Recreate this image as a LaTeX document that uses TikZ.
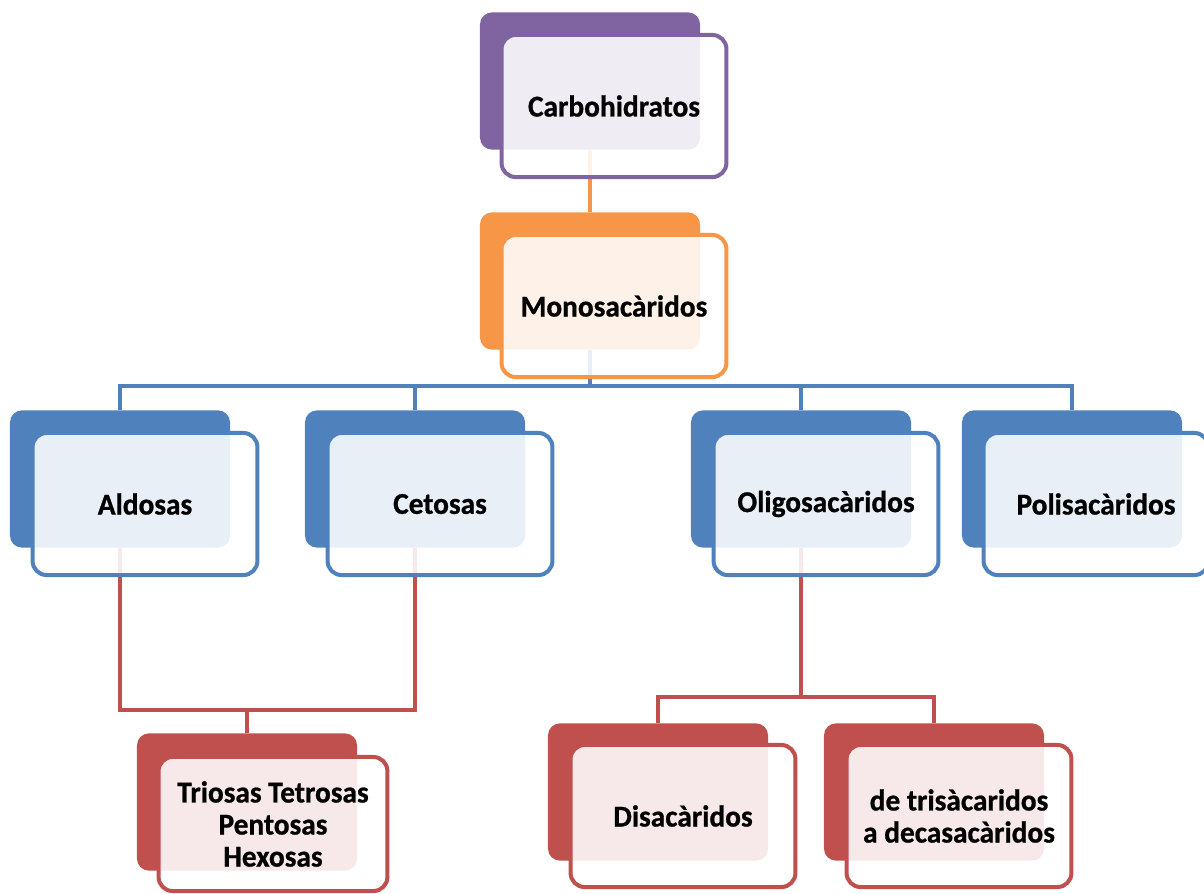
\documentclass[tikz,border=0pt]{standalone}
\usepackage{fontspec}
\newfontfamily\boxfont{Carlito}[FakeStretch=0.97,BoldFeatures={FakeBold=0.8}]
\usetikzlibrary{backgrounds}
\definecolor{cpurple}{HTML}{8064A2}
\definecolor{corange}{HTML}{F79646}
\definecolor{cblue}{HTML}{4F81BD}
\definecolor{cred}{HTML}{C0504D}
\begin{document}
\begin{tikzpicture}[x=0.025cm,y=-0.025cm,
  back/.style={rectangle,rounded corners=0.3cm,minimum width=5.5cm,minimum height=3.43cm,inner sep=0pt},
  front/.style={rectangle,rounded corners=0.35cm,minimum width=5.62cm,minimum height=3.55cm,draw,line width=2.85pt,fill=white,fill opacity=0.88,text opacity=1,text=black,align=center,font=\boxfont\bfseries\fontsize{21.5}{22.8}\selectfont},
  link/.style={line width=3.5pt}]
\useasboundingbox (0,0) rectangle (1204,894);
% back boxes
\node[back,fill=cpurple] (carbo) at (590,81) {};
\node[back,fill=corange] (mono) at (590,281) {};
\node[back,fill=cblue] (aldo) at (120,479) {};
\node[back,fill=cblue] (ceto) at (415,479) {};
\node[back,fill=cblue] (oligo) at (801,479) {};
\node[back,fill=cblue] (poli) at (1072,479) {};
\node[back,fill=cred] (trio) at (247,802) {};
\node[back,fill=cred] (disa) at (658,792) {};
\node[back,fill=cred] (tris) at (934,792) {};
% front boxes
\node[front,draw=cpurple] (carboT) at (614,106) {Carbohidratos};
\node[front,draw=corange] (monoT) at (614,306) {Monosacàridos};
\node[front,draw=cblue] (aldoT) at (145,504) {Aldosas};
\node[front,draw=cblue] (cetoT) at (440,504) {Cetosas};
\node[front,draw=cblue] (oligoT) at (826,504) {Oligosacàridos};
\node[front,draw=cblue] (poliT) at (1096,504) {Polisacàridos};
\node[front,draw=cred,minimum width=5.72cm,minimum height=3.35cm] (trioT) at (273,824) {Triosas Tetrosas\\Pentosas\\Hexosas};
\node[front,draw=cred] (disaT) at (683,816) {Disacàridos};
\node[front,draw=cred] (trisT) at (959,816) {de trisàcaridos\\a decasacàridos};
% connectors
\coordinate (bus) at (590,386);
\coordinate (redjoin) at (247,710);
\coordinate (oligojoin) at (801,697);
\begin{scope}[on background layer]
\draw[link,corange] (carbo.south) -- (mono.north);
\draw[link,cblue] (mono.south) -- (bus);
\draw[link,cblue] (aldo.north) |- (bus) -| (poli.north);
\draw[link,cblue] (ceto.north) -- (ceto.north |- bus);
\draw[link,cblue] (oligo.north) -- (oligo.north |- bus);
\draw[link,cred] (aldo.south) |- (redjoin) -| (ceto.south);
\draw[link,cred] (redjoin) -- (trio.north);
\draw[link,cred] (oligo.south) -- (oligojoin);
\draw[link,cred] (disa.north) |- (oligojoin) -| (tris.north);
\end{scope}
\end{tikzpicture}
\end{document}
